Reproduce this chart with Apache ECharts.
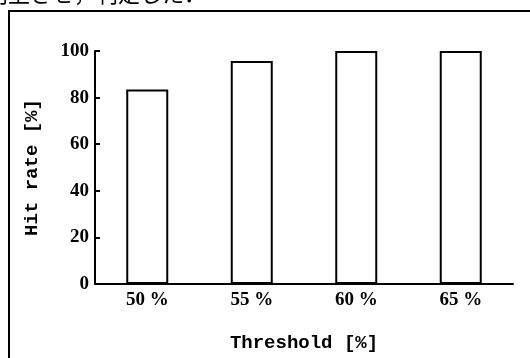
<!DOCTYPE html>
<html>
<head>
<meta charset="utf-8">
<script src="https://cdn.jsdelivr.net/npm/echarts@6/dist/echarts.min.js"></script>
<style>html,body{margin:0;padding:0;background:#fff;}#c{width:530px;height:358px;}</style>
</head>
<body>
<div id="c"></div>
<script>
const categories = ['50 %', '55 %', '60 %', '65 %'];
const hitRate = [83.5, 95.7, 100, 100];
const yTicks = [0, 20, 40, 60, 80, 100];

const chart = echarts.init(document.getElementById('c'), null, {renderer: 'canvas'});
const serif = '"Liberation Serif", "DejaVu Serif", serif';
const mono = '"Liberation Mono", "DejaVu Sans Mono", monospace';
chart.setOption({
  animation: false,
  backgroundColor: '#fff',
  graphic: [
    {type: 'text', left: -14, top: -17, style: {text: '向上させ，判定した．', font: '22px "Noto Sans CJK JP"', fill: '#000'}},
    {type: 'rect', shape: {x: 9, y: 11, width: 600, height: 400}, style: {fill: 'none', stroke: '#000', lineWidth: 2}}
  ],
  grid: {left: 95, right: 17, top: 51, bottom: 65},
  xAxis: {
    type: 'category',
    data: categories,
    name: 'Threshold [%]',
    nameLocation: 'middle',
    nameGap: 50,
    nameTextStyle: {fontFamily: mono, fontWeight: 'bold', fontSize: 19, color: '#000'},
    axisLine: {lineStyle: {color: '#000', width: 2}},
    axisTick: {show: false},
    axisLabel: {fontFamily: serif, fontWeight: 'bold', fontSize: 19, color: '#000', margin: 7}
  },
  yAxis: {
    type: 'value',
    min: yTicks[0],
    max: yTicks[yTicks.length - 1],
    interval: 20,
    name: 'Hit rate [%]',
    nameLocation: 'middle',
    nameGap: 53,
    nameTextStyle: {fontFamily: mono, fontWeight: 'bold', fontSize: 19, color: '#000'},
    axisLine: {show: true, lineStyle: {color: '#000', width: 2}},
    axisTick: {show: true, inside: true, length: 5, lineStyle: {color: '#000', width: 2}},
    splitLine: {show: false},
    axisLabel: {fontFamily: serif, fontWeight: 'bold', fontSize: 19, color: '#000', margin: 6}
  },
  series: [{
    type: 'bar',
    data: hitRate,
    barWidth: 42,
    itemStyle: {color: '#fff', borderColor: '#000', borderWidth: 2}
  }]
});
</script>
</body>
</html>
